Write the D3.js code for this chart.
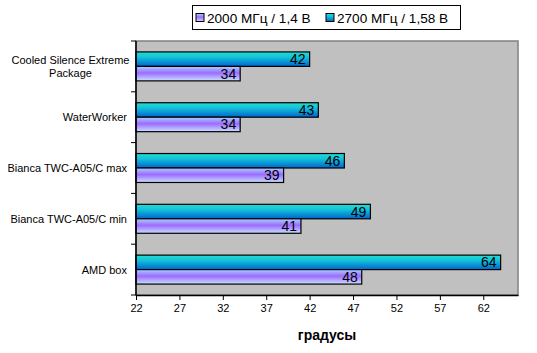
<!DOCTYPE html>
<html><head><meta charset="utf-8">
<script src="https://cdn.jsdelivr.net/npm/d3@7"></script>
<style>body{margin:0;background:#fff}svg{display:block}text{font-family:"Liberation Sans",Arial,sans-serif}</style>
</head><body><svg width="537" height="353"></svg>
<script>
const categories = [["Cooled Silence Extreme","Package"],["WaterWorker"],["Bianca TWC-A05/C max"],["Bianca TWC-A05/C min"],["AMD box"]];
const seriesNames = ["2700 МГц / 1,58 В","2000 МГц / 1,4 В"];
const values2700 = [42,43,46,49,64];
const values2000 = [34,34,39,41,48];
const tickValues = [22,27,32,37,42,47,52,57,62];
const axisTitle = "градусы";

const svg = d3.select("svg");
const defs = svg.append("defs");
const gC = defs.append("linearGradient").attr("id","gc").attr("x1",0).attr("y1",0).attr("x2",0).attr("y2",1);
gC.append("stop").attr("offset","0%").attr("stop-color","#22dcd0");
gC.append("stop").attr("offset","35%").attr("stop-color","#14c4d8");
gC.append("stop").attr("offset","100%").attr("stop-color","#0064d0");
const gP = defs.append("linearGradient").attr("id","gp").attr("x1",0).attr("y1",0).attr("x2",0).attr("y2",1);
gP.append("stop").attr("offset","0%").attr("stop-color","#a8d0ff");
gP.append("stop").attr("offset","45%").attr("stop-color","#9c6cff");
gP.append("stop").attr("offset","100%").attr("stop-color","#c8e0ff");

const X0=136, X1=518, Y0=41, Y1=295;
const x = d3.scaleLinear().domain([22,66]).range([X0,X1]);
const y = d3.scaleBand().domain(d3.range(categories.length)).range([Y0,Y1]).padding(0);
const inner = d3.scaleBand().domain([0,1]).range([y.bandwidth()*0.215, y.bandwidth()*0.785]).padding(0);

svg.append("rect").attr("x",X0).attr("y",Y0).attr("width",X1-X0).attr("height",Y1-Y0)
  .attr("fill","#c0c0c0").attr("stroke","#808080").attr("stroke-width",1.5);

const series = [values2700, values2000];
const fills = ["url(#gc)","url(#gp)"];
categories.forEach((c,i)=>{
  series.forEach((vals,s)=>{
    const by = y(i)+inner(s);
    svg.append("rect").attr("x",x(22)).attr("y",by).attr("width",x(vals[i])-x(22)).attr("height",inner.bandwidth())
      .attr("fill",fills[s]).attr("stroke","#000").attr("stroke-width",1.2);
    svg.append("text").attr("x",x(vals[i])-4).attr("y",by+inner.bandwidth()/2+5)
      .attr("text-anchor","end").attr("font-size",14).attr("fill","#000").text(vals[i]);
  });
});

// x axis
const xa = svg.append("g").attr("transform",`translate(0,${Y1})`)
  .call(d3.axisBottom(x).tickValues(tickValues).tickSize(5).tickSizeOuter(0).tickPadding(4));
xa.select(".domain").attr("stroke","#000").attr("stroke-width",1.5);
xa.selectAll("text").attr("font-size",11).attr("font-family","'Liberation Sans',Arial,sans-serif");
// y axis
const ya = svg.append("g").attr("transform",`translate(${X0},0)`);
ya.append("line").attr("x1",0).attr("x2",0).attr("y1",Y0).attr("y2",Y1).attr("stroke","#000").attr("stroke-width",1.5);
d3.range(categories.length+1).forEach(i=>{
  const ty = Y0 + i*y.step();
  ya.append("line").attr("x1",-5).attr("x2",0).attr("y1",ty).attr("y2",ty).attr("stroke","#000");
});
categories.forEach((c,i)=>{
  const cy = y(i)+y.bandwidth()/2;
  const t = svg.append("text").attr("font-size",11).attr("fill","#000");
  if(c.length===1){
    t.attr("x",127).attr("y",cy+4).attr("text-anchor","end").text(c[0]);
  } else {
    const lh = 13;
    const w0 = 113;
    c.forEach((line,k)=>{
      t.append("tspan").attr("x",127-w0/2).attr("text-anchor","middle")
        .attr("y",cy+4+(k-(c.length-1)/2)*lh).text(line);
    });
  }
});
svg.append("text").attr("x",(X0+X1)/2).attr("y",340).attr("text-anchor","middle")
  .attr("font-size",14).attr("font-weight","bold").text(axisTitle);

// legend
const lg = svg.append("g");
lg.append("rect").attr("x",192.5).attr("y",5.5).attr("width",268).attr("height",24).attr("fill","#fff").attr("stroke","#000");
const legendItems = [{name:seriesNames[1],fill:"url(#gp)",x:196},{name:seriesNames[0],fill:"url(#gc)",x:326}];
legendItems.forEach(it=>{
  lg.append("rect").attr("x",it.x).attr("y",13.5).attr("width",8).attr("height",8).attr("fill",it.fill).attr("stroke","#000");
  lg.append("text").attr("x",it.x+11).attr("y",22.5).attr("font-size",13.6).text(it.name);
});
</script></body></html>
